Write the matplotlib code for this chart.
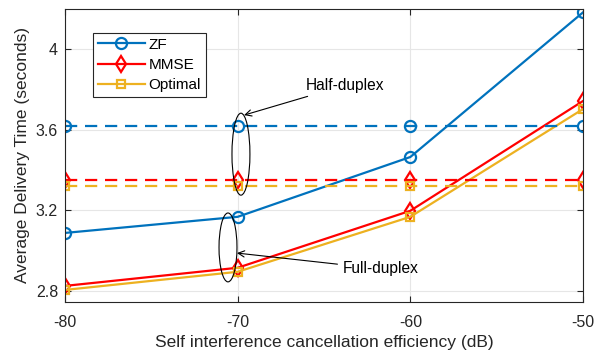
import matplotlib
matplotlib.use("Agg")
import matplotlib.pyplot as plt
from matplotlib.patches import Ellipse

plt.rcParams['font.family'] = ['Liberation Sans', 'DejaVu Sans']

# Self interference cancellation efficiency (dB)
si_db = [-80, -70, -60, -50]

# Full-duplex delivery time (seconds)
zf_fd = [3.088, 3.168, 3.465, 4.183]
mmse_fd = [2.825, 2.915, 3.198, 3.743]
opt_fd = [2.805, 2.895, 3.168, 3.703]

# Half-duplex delivery time (seconds)
zf_hd = [3.62, 3.62, 3.62, 3.62]
mmse_hd = [3.351, 3.351, 3.351, 3.351]
opt_hd = [3.321, 3.321, 3.321, 3.321]

series = ['ZF', 'MMSE', 'Optimal']
y_ticks = [2.8, 3.2, 3.6, 4.0]
y_tick_labels = ['2.8', '3.2', '3.6', '4']
x_tick_labels = ['-80', '-70', '-60', '-50']

c_zf = '#0072BD'
c_mmse = '#FF0000'
c_opt = '#EDB120'

fig = plt.figure(figsize=(6.02, 3.51), dpi=100)
ax = fig.add_axes([0.108, 0.1396, 0.8604, 0.8348])

lw = 1.6
dash = (0, (5.5, 3.5))

ax.plot(si_db, zf_fd, color=c_zf, lw=lw, marker='o', ms=8, mfc='none', mew=1.6, label=series[0])
ax.plot(si_db, mmse_fd, color=c_mmse, lw=lw, marker='d', ms=8, mfc='none', mew=1.6, label=series[1])
ax.plot(si_db, opt_fd, color=c_opt, lw=lw, marker='s', ms=6, mfc='none', mew=1.6, label=series[2])

ax.plot(si_db, zf_hd, color=c_zf, lw=lw, ls=dash, marker='o', ms=8, mfc='none', mew=1.6)
ax.plot(si_db, mmse_hd, color=c_mmse, lw=lw, ls=dash, marker='d', ms=8, mfc='none', mew=1.6)
ax.plot(si_db, opt_hd, color=c_opt, lw=lw, ls=dash, marker='s', ms=6, mfc='none', mew=1.6)

ax.set_xlim(-80, -50)
ax.set_ylim(2.745, 4.2)
ax.set_xticks(si_db)
ax.set_xticklabels(x_tick_labels)
ax.set_yticks(y_ticks)
ax.set_yticklabels(y_tick_labels)

ax.grid(True, color='#E6E6E6', lw=0.8)
ax.set_axisbelow(True)
for s in ax.spines.values():
    s.set_color('#262626')
    s.set_linewidth(0.8)
ax.tick_params(direction='in', top=True, right=True, length=4, width=0.8,
               colors='#262626', labelsize=11.5)
ax.tick_params(axis='x', pad=9)
ax.tick_params(axis='y', pad=5)

ax.set_xlabel('Self interference cancellation efficiency (dB)', fontsize=12.5, color='#262626', labelpad=4)
ax.set_ylabel('Average Delivery Time (seconds)', fontsize=12.5, color='#262626', labelpad=4)

# ellipses grouping the curves at -70 dB
ax.add_patch(Ellipse((-69.81, 3.479), 1.04, 0.407, fill=False, ec='black', lw=0.8, zorder=5))
ax.add_patch(Ellipse((-70.56, 3.016), 1.04, 0.342, fill=False, ec='black', lw=0.8, zorder=5))

ax.annotate('Half-duplex', xy=(-69.63, 3.673), xytext=(-66.05, 3.821),
            fontsize=11.2, va='center', ha='left', color='black',
            arrowprops=dict(arrowstyle='->', color='black', lw=0.8, shrinkA=2, shrinkB=0))
ax.annotate('Full-duplex', xy=(-70.04, 2.988), xytext=(-63.9, 2.909),
            fontsize=11.2, va='center', ha='left', color='black',
            arrowprops=dict(arrowstyle='->', color='black', lw=0.8, shrinkA=2, shrinkB=0))

leg = ax.legend(loc='upper left', bbox_to_anchor=(0.054, 0.918), fontsize=11,
                frameon=True, fancybox=False, edgecolor='#262626', framealpha=1,
                borderpad=0.3, labelspacing=0.42, handlelength=3.1, handletextpad=0.25,
                borderaxespad=0)
leg.get_frame().set_linewidth(0.8)

fig.savefig('out.png', dpi=100)
